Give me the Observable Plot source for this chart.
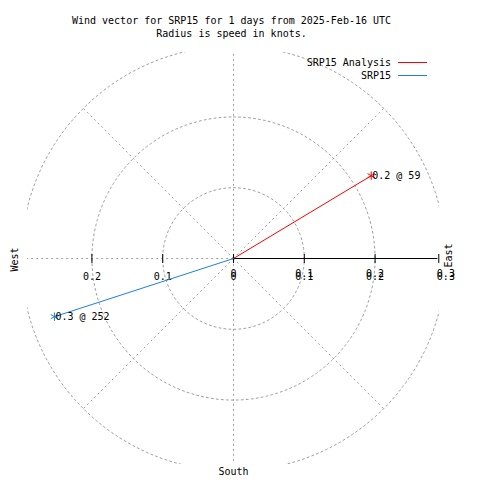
<!DOCTYPE html>
<html>
<head>
<meta charset="utf-8">
<script src="https://cdn.jsdelivr.net/npm/d3@7"></script>
<script src="https://cdn.jsdelivr.net/npm/@observablehq/plot@0.6"></script>
<style>
  html, body { margin: 0; padding: 0; background: #fff; }
  #wrap { position: relative; width: 480px; height: 480px; font-family: "DejaVu Sans Mono", monospace; font-size: 10px; color: #000; }
  #title { width: 463px; padding-top: 14px; line-height: 13px; text-align: center; height: 26px; white-space: pre; }
  #legend { position: absolute; top: 56px; left: 0; width: 427px; }
  .row { height: 13px; display: flex; justify-content: flex-end; align-items: center; }
  .sw { display: inline-block; width: 29px; height: 1px; margin-left: 7px; }
  svg { display: block; }
</style>
</head>
<body>
<div id="wrap">
  <div id="title"></div>
  <div id="chart"></div>
  <div id="legend"></div>
</div>
<script>
// ---- data ----
const titleLines = ["Wind vector for SRP15 for 1 days from 2025-Feb-16 UTC", "Radius is speed in knots."];
const seriesNames = ["SRP15 Analysis", "SRP15"];
const seriesColors = ["#ff0000", "#1a80e5"];
const speeds = [0.227, 0.266];        // knots
const directions = [59, 252];         // degrees, clockwise from north
const pointLabels = ["0.2 @ 59", "0.3 @ 252"];
const ringRadii = [0.1, 0.2, 0.3];
const spokeAngles = [45, 135, 225, 315];
const rightTickValues = [0, 0.1, 0.2, 0.3];
const rightTickLabels = ["0", "0.1", "0.2", "0.3"];
const leftTickValues = [-0.2, -0.1];
const leftTickLabels = ["0.2", "0.1"];
const compassLabels = ["West", "East", "South"];

// ---- title & legend ----
document.getElementById("title").textContent = titleLines.join("\n");
const legend = document.getElementById("legend");
seriesNames.forEach((n, i) => {
  const row = document.createElement("div");
  row.className = "row";
  const t = document.createElement("span"); t.textContent = n;
  const s = document.createElement("span"); s.className = "sw"; s.style.background = seriesColors[i];
  row.append(t, s);
  legend.append(row);
});

// ---- derived tables ----
const rad = d => d * Math.PI / 180;
const vectors = speeds.map((s, i) => ({
  name: seriesNames[i], color: seriesColors[i], label: pointLabels[i],
  x: s * Math.sin(rad(directions[i])), y: s * Math.cos(rad(directions[i]))
}));
const ringPts = [];
ringRadii.forEach(r => { for (let a = 0; a <= 360; a += 2) ringPts.push({ring: r, x: r * Math.sin(rad(a)), y: r * Math.cos(rad(a))}); });
const spokes = spokeAngles.map(a => ({x: 0.3 * Math.sin(rad(a)), y: 0.3 * Math.cos(rad(a))}));
const rMax = 0.291;
const grid = "#a0a0a0";
const dash = "2,3";
const rightTicks = rightTickValues.map((v, i) => ({v, label: rightTickLabels[i]}));
const leftTicks = leftTickValues.map((v, i) => ({v, label: leftTickLabels[i]}));
const tickLen = 0.0064;

const plot = Plot.plot({
  width: 480,
  height: 440,
  marginTop: 12,
  marginBottom: 16,
  marginLeft: 27,
  marginRight: 41,
  x: {domain: [-rMax, rMax], axis: null},
  y: {domain: [-rMax, rMax], axis: null},
  style: {fontFamily: "DejaVu Sans Mono", fontSize: "10px", background: "#fff", overflow: "visible"},
  marks: [
    // rings
    Plot.line(ringPts, {x: "x", y: "y", z: "ring", stroke: grid, strokeDasharray: dash, strokeWidth: 1, clip: true}),
    // diagonal spokes
    Plot.link(spokes, {x1: () => 0, y1: () => 0, x2: "x", y2: "y", stroke: grid, strokeDasharray: dash, clip: true}),
    // vertical axis
    Plot.link([0], {x1: () => 0, x2: () => 0, y1: () => -0.3, y2: () => 0.3, stroke: grid, strokeDasharray: dash, clip: true}),
    // west half of horizontal axis
    Plot.link([0], {x1: () => -0.3, x2: () => 0, y1: () => 0, y2: () => 0, stroke: grid, strokeDasharray: dash, clip: true}),
    // east half: solid axis
    Plot.link([0], {x1: () => 0, x2: () => rMax - 0.003, y1: () => 0, y2: () => 0, stroke: "#000", strokeWidth: 1}),
    // ticks
    Plot.link([...leftTickValues, 0, 0.1, 0.2, rMax - 0.001], {x1: d => d, x2: d => d, y1: () => -tickLen, y2: () => tickLen, stroke: "#000"}),
    // tick labels (east side drawn twice, as in the reference)
    Plot.text(rightTicks, {x: "v", y: () => 0, text: "label", dy: 15, fill: "#000"}),
    Plot.text(rightTicks, {x: "v", y: () => 0, text: "label", dy: 18, fill: "#000"}),
    Plot.text(leftTicks, {x: "v", y: () => 0, text: "label", dy: 18, fill: "#000"}),
    // compass labels
    Plot.text([compassLabels[0]], {frameAnchor: "left", text: d => d, textAnchor: "middle", lineAnchor: "middle", dx: -13, dy: 1, rotate: -90, fill: "#000"}),
    Plot.text([compassLabels[1]], {frameAnchor: "right", text: d => d, textAnchor: "middle", lineAnchor: "middle", dx: 9, dy: -3, rotate: -90, fill: "#000"}),
    Plot.text([compassLabels[2]], {frameAnchor: "bottom", text: d => d, textAnchor: "middle", lineAnchor: "middle", dy: 7, fill: "#000"}),
    // wind vectors
    Plot.link(vectors, {x1: () => 0, y1: () => 0, x2: "x", y2: "y", stroke: d => d.color, strokeWidth: 1}),
    Plot.dot(vectors, {x: "x", y: "y", symbol: "asterisk", r: 4, stroke: d => d.color, strokeWidth: 1}),
    Plot.text(vectors, {x: "x", y: "y", text: "label", textAnchor: "start", dx: 1, fill: "#000"})
  ]
});
document.getElementById("chart").append(plot);
</script>
</body>
</html>
